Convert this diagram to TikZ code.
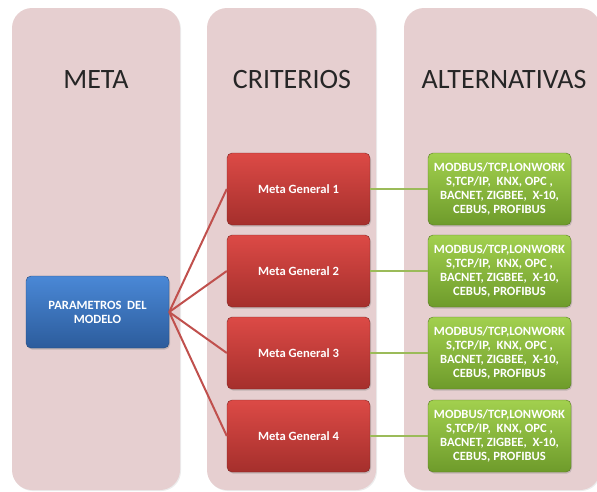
\documentclass[tikz,border=0pt]{standalone}
\usepackage{fontspec}
\setmainfont{Carlito}
\usetikzlibrary{shadows}
\definecolor{panelc}{HTML}{E6CFD0}
\definecolor{redtop}{HTML}{DC4A46}
\definecolor{redbot}{HTML}{A52F2C}
\definecolor{bluetop}{HTML}{4A88D6}
\definecolor{bluebot}{HTML}{2C5C9C}
\definecolor{greentop}{HTML}{A2D04E}
\definecolor{greenbot}{HTML}{6E9B2B}
\definecolor{redline}{HTML}{C0504D}
\definecolor{greenline}{HTML}{9BBB59}
\tikzset{
  panel/.style={fill=panelc, rounded corners=20pt, inner sep=0pt, drop shadow={opacity=0.15, shadow xshift=1pt, shadow yshift=-1pt}},
  heading/.style={font=\fontsize{28}{32}\selectfont, text=black!85},
  boxbase/.style={rounded corners=5pt, minimum width=143pt, minimum height=72pt, inner sep=2pt, align=center, text=white, font=\bfseries\fontsize{12.6}{14}\selectfont, drop shadow={opacity=0.35, shadow xshift=1pt, shadow yshift=-1.5pt}},
  bluebox/.style={boxbase, top color=bluetop, bottom color=bluebot, draw=bluebot!80!black, line width=0.4pt},
  redbox/.style={boxbase, top color=redtop, bottom color=redbot, draw=redbot!80!black, line width=0.4pt},
  greenbox/.style={boxbase, top color=greentop, bottom color=greenbot, draw=greenbot!80!black, line width=0.4pt},
  redlink/.style={draw=redline, line width=2pt},
  greenlink/.style={draw=greenline, line width=2pt},
}
\begin{document}
\begin{tikzpicture}[x=1pt,y=-1pt]
\useasboundingbox (0,0) rectangle (597,491);
\clip (0,0) rectangle (597,491);
% panels
\node[panel, minimum width=168pt, minimum height=482pt] (p1) at (96,249) {};
\node[panel, minimum width=169pt, minimum height=482pt] (p2) at (291.5,249) {};
\node[panel, minimum width=196pt, minimum height=482pt] (p3) at (502,249) {};
% headings
\node[heading] (h1) at (96,80) {META};
\node[heading] (h2) at (292,80) {CRITERIOS};
\node[heading] (h3) at (504,80) {ALTERNATIVAS};
% nodes
\node[bluebox] (m) at (97.5,312) {PARAMETROS\ \ DEL\\MODELO};
\node[redbox] (r1) at (298.5,189) {Meta General 1};
\node[redbox] (r2) at (298.5,271) {Meta General 2};
\node[redbox] (r3) at (298.5,353) {Meta General 3};
\node[redbox] (r4) at (298.5,436) {Meta General 4};
\foreach \i/\y in {1/189,2/271,3/353,4/436}{
  \node[greenbox] (g\i) at (499.5,\y) {MODBUS/TCP,LONWORK\\S,TCP/IP,\ \ KNX, OPC ,\\BACNET, ZIGBEE,\ \ X-10,\\CEBUS, PROFIBUS};
}
% connectors
\foreach \i in {1,2,3,4}{
  \draw[redlink] (m.east) -- (r\i.west);
  \draw[greenlink] (r\i.east) -- (g\i.west);
}
\end{tikzpicture}
\end{document}
